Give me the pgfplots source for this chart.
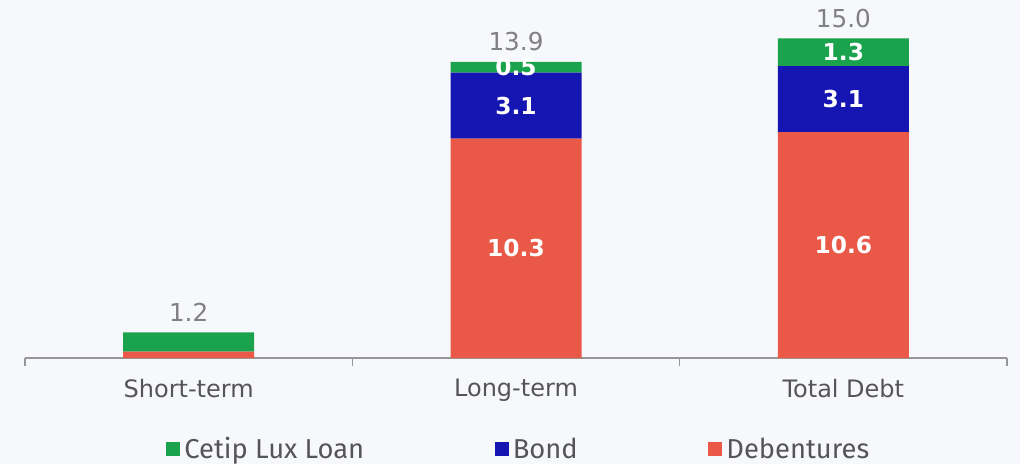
\documentclass[border=0pt]{standalone}
\usepackage{fontspec}
\setmainfont{DejaVu Sans}
\newfontfamily\legfont{Fira Sans}
\usepackage{pgfplots}
\pgfplotsset{compat=1.18}

\definecolor{bg}{RGB}{247,248,252}
\definecolor{cetip}{RGB}{26,162,76}
\definecolor{bond}{RGB}{21,21,178}
\definecolor{deb}{RGB}{234,88,71}
\definecolor{axgray}{RGB}{150,150,150}
\definecolor{ticktxt}{RGB}{85,85,85}
\definecolor{totgray}{RGB}{128,128,128}

\tikzset{
    seglab/.style={text=white, font=\bfseries\fontsize{17.5}{19}\selectfont},
    totlab/.style={text=totgray, anchor=base, inner sep=0pt, yshift=8.5pt, font=\fontsize{18.5}{20}\selectfont},
}

\begin{document}
\begin{tikzpicture}
\fill[bg] (0,0) rectangle (765pt,348pt);
\useasboundingbox (0,0) rectangle (765pt,348pt);
\begin{axis}[
    at={(18.75pt,79.5pt)}, anchor=south west,
    scale only axis,
    width=736.5pt, height=255.6pt,
    ybar stacked,
    bar width=98.25pt,
    xmin=-0.5, xmax=2.5,
    ymin=0, ymax=16,
    clip=false,
    axis x line=bottom,
    axis y line=none,
    axis line style={draw=axgray, line width=1pt, -},
    xtick={0,1,2},
    xticklabels={Short-term,Long-term,Total Debt},
    major x tick style={draw=none},
    minor xtick={-0.5,0.5,1.5,2.5},
    minor x tick style={draw=axgray, line width=1pt},
    minor tick length=6pt,
    tick align=outside,
    xticklabel style={text=ticktxt, font=\fontsize{18}{20}\selectfont, yshift=-8pt},
    reverse legend,
    legend columns=3,
    legend style={
        draw=none, fill=none,
        at={(axis description cs:0.1396,-0.267)}, anchor=west,
        font=\legfont\fontsize{20.5}{22}\selectfont,
        text=ticktxt,
        nodes={inner sep=3pt},
        /tikz/every even column/.append style={column sep=95pt},
    },
    legend image code/.code={\draw[#1,draw=none] (0pt,-5.25pt) rectangle (10.5pt,5.25pt);},
]
% Debentures
\addplot[fill=deb, draw=none] coordinates {(0,0.3) (1,10.3) (2,10.6)};
\addlegendentry{Debentures}
% Bond
\addplot[fill=bond, draw=none] coordinates {(0,0) (1,3.1) (2,3.1)};
\addlegendentry{Bond}
% Cetip Lux Loan
\addplot[fill=cetip, draw=none] coordinates {(0,0.9) (1,0.5) (2,1.3)};
\addlegendentry{Cetip Lux Loan}

% label anchors in the middle of each segment
\coordinate (l1) at (axis cs:1,5.15);
\coordinate (l2) at (axis cs:1,11.85);
\coordinate (l3) at (axis cs:1,13.65);
\coordinate (t1) at (axis cs:2,5.3);
\coordinate (t2) at (axis cs:2,12.15);
\coordinate (t3) at (axis cs:2,14.35);

% totals
\node[totlab] at (axis cs:0,1.2) {1.2};
\node[totlab] at (axis cs:1,13.9) {13.9};
\node[totlab] at (axis cs:2,15.0) {15.0};
\end{axis}
\node[seglab] at (l1) {10.3};
\node[seglab] at (l2) {3.1};
\node[seglab] at (l3) {0.5};
\node[seglab] at (t1) {10.6};
\node[seglab] at (t2) {3.1};
\node[seglab] at (t3) {1.3};
\end{tikzpicture}
\end{document}
